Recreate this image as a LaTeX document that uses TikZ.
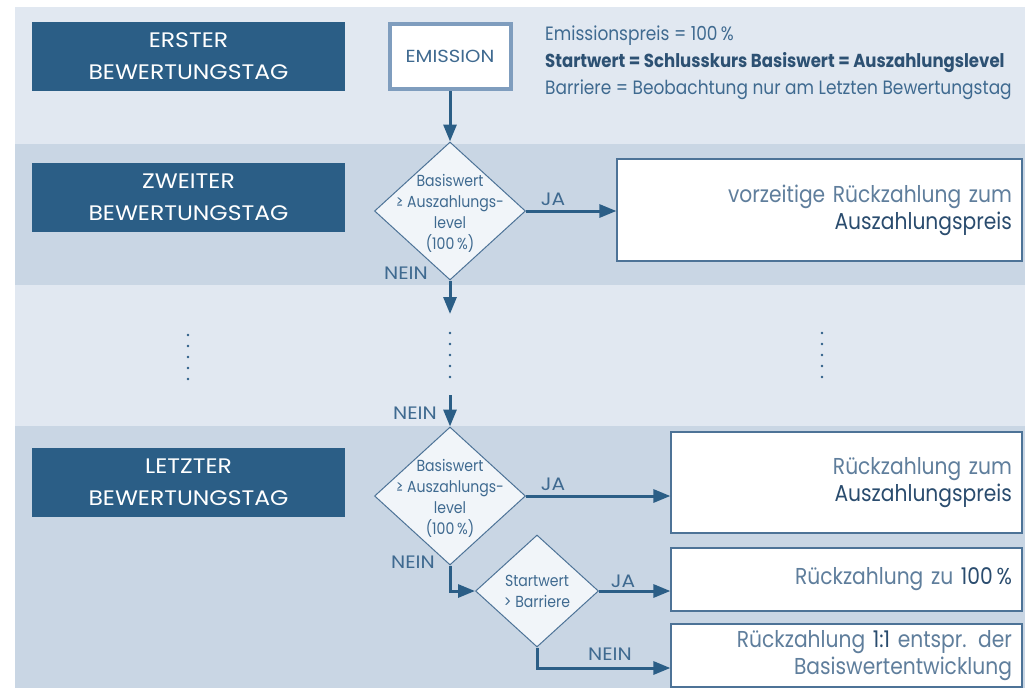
\documentclass[tikz,border=0pt]{standalone}
\usepackage{fontspec}
\setmainfont{Poppins}[FakeStretch=0.88]
\newfontfamily\capsfont{Poppins}[FakeStretch=1.12]
\usetikzlibrary{shapes.geometric,arrows.meta,calc}
\definecolor{dblue}{HTML}{2B5E86}
\definecolor{bandlight}{HTML}{E1E8F1}
\definecolor{banddark}{HTML}{C9D6E4}
\definecolor{dfill}{HTML}{F1F5F9}
\definecolor{dline}{HTML}{4D7397}
\definecolor{ltext}{HTML}{5F7E9C}
\definecolor{btext}{HTML}{2A4C6E}
\definecolor{ttext}{HTML}{3F6A90}
\definecolor{emborder}{HTML}{7F9DBE}
\tikzset{
  labelbox/.style={fill=dblue, text=white, align=center, minimum width=313pt, minimum height=69pt, inner sep=0pt, font=\capsfont\fontsize{21}{32}\selectfont},
  decision/.style={shape=diamond, draw=dline, line width=1pt, fill=dfill, inner sep=0pt},
  dtext/.style={align=center, text=ttext, font=\fontsize{16}{21}\selectfont, inner sep=0pt},
  resultbox/.style={draw=dline, line width=1.2pt, fill=white, align=right, inner xsep=10pt, inner ysep=0pt, text=ltext, font=\fontsize{23}{27}\selectfont},
  flow/.style={draw=dblue, line width=3pt, -{Triangle[length=17pt,width=13pt]}},
  flowlabel/.style={text=ttext, font=\capsfont\fontsize{18}{20}\selectfont, inner sep=0pt},
  toptext/.style={text=ttext, font=\fontsize{19.3}{22}\selectfont, inner sep=0pt, anchor=base west},
  dotmark/.style={circle, fill=dblue, inner sep=0pt, minimum size=2.6pt}
}
\begin{document}
\begin{tikzpicture}[x=1pt,y=-1pt]
\useasboundingbox (0,0) rectangle (1025,688);
% bands
\fill[bandlight] (15,7) rectangle (1025,144);
\fill[banddark] (15,144) rectangle (1025,285);
\fill[bandlight] (15,285) rectangle (1025,426);
\fill[banddark] (15,426) rectangle (1025,688);

% label boxes
\node[labelbox] (erster) at (188.5,56) {ERSTER\\BEWERTUNGSTAG};
\node[labelbox] (zweiter) at (188.5,197) {ZWEITER\\BEWERTUNGSTAG};
\node[labelbox] (letzter) at (188.5,482) {LETZTER\\BEWERTUNGSTAG};

% emission
\node[draw=emborder, line width=4pt, fill=white, minimum width=121pt, minimum height=65pt, inner sep=0pt, text=ttext, font=\capsfont\fontsize{17.5}{20}\selectfont] (emission) at (450,56.5) {EMISSION};

% top right text
\node[toptext] (t1) at (545,40) {Emissionspreis = 100\,\%};
\node[toptext, font=\bfseries\fontsize{18.8}{22}\selectfont, text=btext!85!ttext] (t2) at (545,67) {Startwert = Schlusskurs Basiswert = Auszahlungslevel};
\node[toptext] (t3) at (545,94) {Barriere = Beobachtung nur am Letzten Bewertungstag};

% decisions
\node[decision, minimum width=151pt, minimum height=138pt] (d1) at (450,211) {};
\node[dtext] (d1t) at ([yshift=-2pt]d1.center) {Basiswert\\≥ Auszahlungs-\\level\\(100\,\%)};
\node[decision, minimum width=151pt, minimum height=138pt] (d2) at (450,496) {};
\node[dtext] (d2t) at ([yshift=-2pt]d2.center) {Basiswert\\≥ Auszahlungs-\\level\\(100\,\%)};
\node[decision, minimum width=123pt, minimum height=112pt] (d3) at (537,591) {};
\node[dtext] (d3t) at (d3.center) {Startwert\\> Barriere};

% result boxes
\node[resultbox, text width=385pt, minimum height=102pt] (b1) at (819.5,210) {vorzeitige Rückzahlung zum\\{\color{btext}Auszahlungspreis}};
\node[resultbox, text width=331pt, minimum height=101pt] (b2) at (846.5,482.5) {Rückzahlung zum\\{\color{btext}Auszahlungspreis}};
\node[resultbox, text width=331pt, minimum height=63pt] (b3) at (846.5,579.5) {Rückzahlung zu {\color{btext}100\,\%}};
\node[resultbox, text width=331pt, minimum height=63pt] (b4) at (846.5,655.5) {Rückzahlung {\color{btext}1:1} entspr. der\\Basiswertentwicklung};

% coordinates for free ends
\coordinate (c1) at (450,314);
\coordinate (c2) at (450,395);

% flows
\draw[flow] (emission.south) -- (d1.north);
\draw[flow] (d1.east) -- (d1.east -| b1.west);
\draw[flow] (d1.south) -- (c1);
\draw[flow] (c2) -- (d2.north);
\draw[flow] (d2.east) -- (d2.east -| b2.west);
\draw[flow] (d2.south) |- (d3.west);
\draw[flow] (d3.east) -- (d3.east -| b3.west);
\draw[flow] (d3.south) |- ([yshift=-12.5pt]b4.west);

% flow labels
\node[flowlabel] (ja1) at (553,199) {JA};
\node[flowlabel] (nein1) at (406,273) {NEIN};
\node[flowlabel] (nein2) at (415,413) {NEIN};
\node[flowlabel] (ja2) at (553,484) {JA};
\node[flowlabel] (nein3) at (413,562) {NEIN};
\node[flowlabel] (ja3) at (623,581) {JA};
\node[flowlabel] (nein4) at (610,654) {NEIN};

% dots
\foreach \i in {0,...,4} {
  \node[dotmark] (la\i) at (188,335+11*\i) {};
  \node[dotmark] (mi\i) at (450,333+11*\i) {};
  \node[dotmark] (ri\i) at (822,333+11*\i) {};
}
\end{tikzpicture}
\end{document}
